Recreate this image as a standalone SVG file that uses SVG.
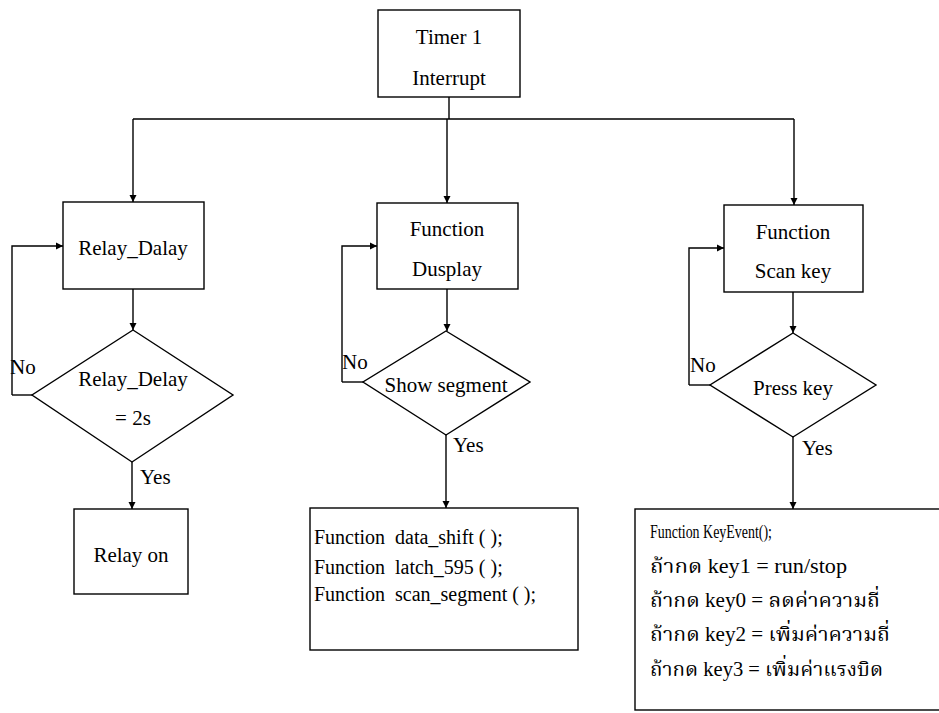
<svg xmlns="http://www.w3.org/2000/svg" width="939" height="713" viewBox="0 0 939 713">
<style>
.box{fill:#fff;stroke:#000;stroke-width:1.4}
.ln{fill:none;stroke:#000;stroke-width:1.4}
.ar{fill:none;stroke:#000;stroke-width:1.4;marker-end:url(#ah)}
text{font-family:"Liberation Serif","Noto Serif Thai","Noto Sans Thai","DejaVu Serif","DejaVu Sans",serif;font-size:21px;fill:#000}
.c{text-anchor:middle}
.f{font-size:20px}
.k{font-size:20px}
</style>
<defs>
<marker id="ah" viewBox="0 0 10 10" refX="10" refY="5" markerWidth="7" markerHeight="8" orient="auto" markerUnits="userSpaceOnUse">
<path d="M0,0 L10,5 L0,10 z" fill="#000"/>
</marker>
</defs>
<rect width="939" height="713" fill="#fff"/>
<g id="connectors">
<path class="ln" d="M449,97 V119 M133,119 H794"/>
<path class="ar" d="M133,119 V202"/>
<path class="ar" d="M447,119 V203"/>
<path class="ar" d="M794,119 V205"/>
<path class="ar" d="M133,289 V330"/>
<path class="ln" d="M12,395 H32"/>
<path class="ar" d="M12,395 V246 H63"/>
<path class="ar" d="M132,462 V509"/>
<path class="ar" d="M447,289 V331"/>
<path class="ln" d="M342,382 H363"/>
<path class="ar" d="M342,382 V246 H377"/>
<path class="ar" d="M446,435 V508"/>
<path class="ar" d="M793,292 V333"/>
<path class="ln" d="M689,385 H710"/>
<path class="ar" d="M689,385 V248 H724"/>
<path class="ar" d="M793,437 V509"/>
</g>
<g id="timer">
<rect class="box" x="378" y="10" width="142" height="87"/>
<text class="c" x="449" y="44">Timer 1</text>
<text class="c" x="449" y="85">Interrupt</text>
</g>
<g id="relay-dalay">
<rect class="box" x="63" y="202" width="141" height="87"/>
<text class="c" x="133" y="255">Relay_Dalay</text>
</g>
<g id="relay-delay-check">
<polygon class="box" points="133,330 233,395 132,462 32,395"/>
<text class="c" x="133" y="386">Relay_Delay</text>
<text class="c" x="133" y="425">= 2s</text>
</g>
<g id="relay-on">
<rect class="box" x="74" y="509" width="114" height="85"/>
<text class="c" x="131" y="562">Relay on</text>
</g>
<g id="function-dusplay">
<rect class="box" x="377" y="203" width="141" height="86"/>
<text class="c" x="447" y="236">Function</text>
<text class="c" x="447" y="276">Dusplay</text>
</g>
<g id="show-segment">
<polygon class="box" points="446,331 530,382 446,435 363,382"/>
<text class="c" x="446" y="392">Show segment</text>
</g>
<g id="display-functions">
<rect class="box" x="310" y="508" width="268" height="142"/>
<text class="f" x="314" y="544">Function<tspan x="395">data_shift ( );</tspan></text>
<text class="f" x="314" y="574">Function<tspan x="395">latch_595 ( );</tspan></text>
<text class="f" x="314" y="601">Function<tspan x="395">scan_segment ( );</tspan></text>
</g>
<g id="function-scan-key">
<rect class="box" x="724" y="205" width="139" height="87"/>
<text class="c" x="793" y="239">Function</text>
<text class="c" x="793" y="278">Scan key</text>
</g>
<g id="press-key">
<polygon class="box" points="793,333 876,385 793,437 710,385"/>
<text class="c" x="793" y="395">Press key</text>
</g>
<g id="key-event">
<rect class="box" x="635" y="509" width="320" height="201"/>
<text class="k" x="650" y="538" style="font-size:18px" textLength="122" lengthAdjust="spacingAndGlyphs">Function KeyEvent();</text>
<text class="k" x="650" y="573" textLength="197" lengthAdjust="spacingAndGlyphs">ถ้ากด key1 = run/stop</text>
<text class="k" x="650" y="607" textLength="230" lengthAdjust="spacingAndGlyphs">ถ้ากด key0 = ลดค่าความถี่</text>
<text class="k" x="650" y="641" textLength="240" lengthAdjust="spacingAndGlyphs">ถ้ากด key2 = เพิ่มค่าความถี่</text>
<text class="k" x="650" y="676" textLength="233" lengthAdjust="spacingAndGlyphs">ถ้ากด key3 = เพิ่มค่าแรงบิด</text>
</g>
<g id="labels">
<text x="10" y="374">No</text>
<text x="140" y="484">Yes</text>
<text x="342" y="369">No</text>
<text x="453" y="452">Yes</text>
<text x="690" y="372">No</text>
<text x="802" y="455">Yes</text>
</g>
</svg>
